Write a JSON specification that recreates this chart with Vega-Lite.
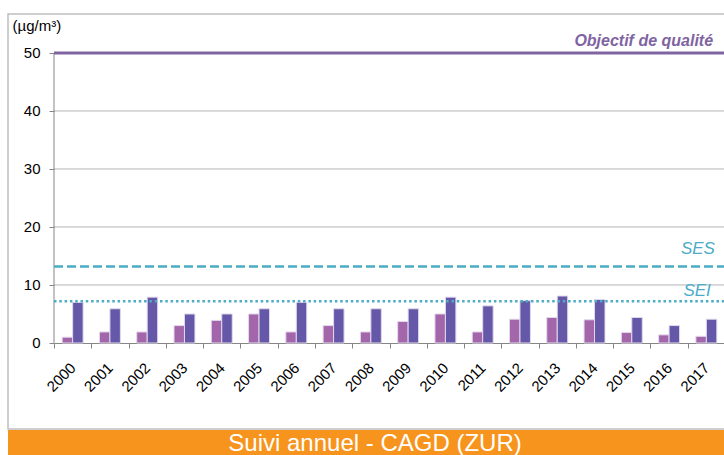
{
  "$schema": "https://vega.github.io/schema/vega-lite/v6.json",
  "padding": {"left": 2, "top": 13, "right": 0, "bottom": 0},
  "spacing": 0,
  "config": {
    "font": "Liberation Sans",
    "view": {"stroke": null},
    "concat": {"spacing": 0}
  },
  "datasets": {
    "bars": [
      {"year": "2000", "serie": "serie1", "value": 1.0}, {"year": "2000", "serie": "serie2", "value": 7.0},
      {"year": "2001", "serie": "serie1", "value": 1.9}, {"year": "2001", "serie": "serie2", "value": 5.9},
      {"year": "2002", "serie": "serie1", "value": 1.9}, {"year": "2002", "serie": "serie2", "value": 7.9},
      {"year": "2003", "serie": "serie1", "value": 3.0}, {"year": "2003", "serie": "serie2", "value": 5.0},
      {"year": "2004", "serie": "serie1", "value": 3.9}, {"year": "2004", "serie": "serie2", "value": 5.0},
      {"year": "2005", "serie": "serie1", "value": 5.0}, {"year": "2005", "serie": "serie2", "value": 5.9},
      {"year": "2006", "serie": "serie1", "value": 1.9}, {"year": "2006", "serie": "serie2", "value": 7.0},
      {"year": "2007", "serie": "serie1", "value": 3.0}, {"year": "2007", "serie": "serie2", "value": 5.9},
      {"year": "2008", "serie": "serie1", "value": 1.9}, {"year": "2008", "serie": "serie2", "value": 5.9},
      {"year": "2009", "serie": "serie1", "value": 3.7}, {"year": "2009", "serie": "serie2", "value": 5.9},
      {"year": "2010", "serie": "serie1", "value": 5.0}, {"year": "2010", "serie": "serie2", "value": 7.9},
      {"year": "2011", "serie": "serie1", "value": 1.9}, {"year": "2011", "serie": "serie2", "value": 6.4},
      {"year": "2012", "serie": "serie1", "value": 4.1}, {"year": "2012", "serie": "serie2", "value": 7.3},
      {"year": "2013", "serie": "serie1", "value": 4.4}, {"year": "2013", "serie": "serie2", "value": 8.1},
      {"year": "2014", "serie": "serie1", "value": 4.0}, {"year": "2014", "serie": "serie2", "value": 7.5},
      {"year": "2015", "serie": "serie1", "value": 1.8}, {"year": "2015", "serie": "serie2", "value": 4.4},
      {"year": "2016", "serie": "serie1", "value": 1.4}, {"year": "2016", "serie": "serie2", "value": 3.0},
      {"year": "2017", "serie": "serie1", "value": 1.15}, {"year": "2017", "serie": "serie2", "value": 4.1}
    ],
    "grid": [{"v": 10}, {"v": 20}, {"v": 30}, {"v": 40}],
    "limits": [
      {"name": "Objectif de qualité", "v": 50},
      {"name": "SES", "v": 13.2},
      {"name": "SEI", "v": 7.2}
    ],
    "banner": [{"t": "Suivi annuel - CAGD (ZUR)"}]
  },
  "vconcat": [
    {
      "width": 720,
      "height": 415,
      "view": {"stroke": "#BEBEBE", "strokeWidth": 1.5},
      "encoding": {
        "x": {
          "field": "year", "type": "nominal",
          "scale": {"range": [46, 717], "paddingInner": 0, "paddingOuter": 0},
          "axis": {
            "title": null, "labelAngle": -45, "labelAlign": "right", "labelBaseline": "middle",
            "labelFontSize": 15, "labelPadding": 17, "labelColor": "#000", "labelOverlap": false,
            "tickBand": "extent", "tickSize": 5, "tickColor": "#868686", "domainColor": "#868686",
            "offset": -86, "grid": false
          }
        },
        "y": {
          "field": "value", "type": "quantitative",
          "scale": {"domain": [-14.83, 56.72], "nice": false, "zero": false},
          "axis": {
            "values": [0, 10, 20, 30, 40, 50], "domain": false, "grid": false, "offset": -46,
            "tickColor": "#868686", "tickSize": 5, "labelFontSize": 15, "labelPadding": 9, "labelColor": "#000",
            "title": "(µg/m³)", "titleAngle": 0, "titleAlign": "left", "titleBaseline": "alphabetic",
            "titleX": -42, "titleY": 16, "titleFontSize": 15, "titleFontWeight": "normal", "titleColor": "#000"
          }
        }
      },
      "layer": [
        {
          "data": {"name": "grid"},
          "mark": {"type": "rule", "color": "#B4B4B4", "strokeWidth": 1},
          "encoding": {
            "y": {"field": "v", "type": "quantitative"},
            "x": {"datum": "2000", "bandPosition": 0},
            "x2": {"value": "width"}
          }
        },
        {
          "data": {"name": "bars"},
          "mark": {"type": "rule", "color": "#868686", "strokeWidth": 1},
          "transform": [{"filter": "datum.year === '2000' && datum.serie === 'serie1'"}],
          "encoding": {
            "x": {"field": "year", "type": "nominal", "bandPosition": 0},
            "y": {"datum": 0},
            "y2": {"datum": 50}
          }
        },
        {
          "data": {"name": "bars"},
          "mark": {"type": "bar", "stroke": "#E2D8EC", "strokeWidth": 1},
          "encoding": {
            "xOffset": {"field": "serie", "type": "nominal", "scale": {"paddingInner": 0, "paddingOuter": 0.78}},
            "y2": {"datum": 0},
            "color": {
              "field": "serie", "type": "nominal", "legend": null,
              "scale": {"domain": ["serie1", "serie2"], "range": ["#A466AA", "#6558A8"]}
            }
          }
        },
        {
          "data": {"name": "limits"},
          "transform": [{"filter": "datum.name === 'Objectif de qualité'"}],
          "mark": {"type": "rule", "color": "#8064A2", "strokeWidth": 3},
          "encoding": {
            "y": {"field": "v", "type": "quantitative"},
            "x": {"datum": "2000", "bandPosition": 0},
            "x2": {"value": "width"}
          }
        },
        {
          "data": {"name": "limits"},
          "transform": [{"filter": "datum.name === 'SES'"}],
          "mark": {"type": "rule", "color": "#4BACC6", "strokeWidth": 2.5, "strokeDash": [9, 4]},
          "encoding": {
            "y": {"field": "v", "type": "quantitative"},
            "x": {"datum": "2000", "bandPosition": 0},
            "x2": {"value": "width"}
          }
        },
        {
          "data": {"name": "limits"},
          "transform": [{"filter": "datum.name === 'SEI'"}],
          "mark": {"type": "rule", "color": "#4BACC6", "strokeWidth": 2.5, "strokeDash": [2.5, 2.8]},
          "encoding": {
            "y": {"field": "v", "type": "quantitative"},
            "x": {"datum": "2000", "bandPosition": 0},
            "x2": {"value": "width"}
          }
        },
        {
          "data": {"name": "limits"},
          "transform": [{"filter": "datum.name === 'Objectif de qualité'"}],
          "mark": {"type": "text", "color": "#8064A2", "fontSize": 16, "fontWeight": "bold", "fontStyle": "italic", "align": "right", "baseline": "alphabetic", "dy": -7},
          "encoding": {
            "y": {"field": "v", "type": "quantitative"},
            "x": {"datum": "2017", "bandPosition": 0.68},
            "text": {"field": "name"}
          }
        },
        {
          "data": {"name": "limits"},
          "transform": [{"filter": "datum.name === 'SES'"}],
          "mark": {"type": "text", "color": "#4BACC6", "fontSize": 17, "fontStyle": "italic", "align": "right", "baseline": "alphabetic", "dy": -12},
          "encoding": {
            "y": {"field": "v", "type": "quantitative"},
            "x": {"datum": "2017", "bandPosition": 0.73},
            "text": {"field": "name"}
          }
        },
        {
          "data": {"name": "limits"},
          "transform": [{"filter": "datum.name === 'SEI'"}],
          "mark": {"type": "text", "color": "#4BACC6", "fontSize": 17, "fontStyle": "italic", "align": "right", "baseline": "alphabetic", "dy": -5},
          "encoding": {
            "y": {"field": "v", "type": "quantitative"},
            "x": {"datum": "2017", "bandPosition": 0.62},
            "text": {"field": "name"}
          }
        }
      ]
    },
    {
      "width": 720,
      "height": 26,
      "view": {"fill": "#F7941D", "stroke": null},
      "data": {"name": "banner"},
      "mark": {"type": "text", "color": "#FFFFFF", "fontSize": 24, "font": "Liberation Sans", "baseline": "alphabetic", "dy": 8, "dx": 7},
      "encoding": {"text": {"field": "t"}}
    }
  ]
}
